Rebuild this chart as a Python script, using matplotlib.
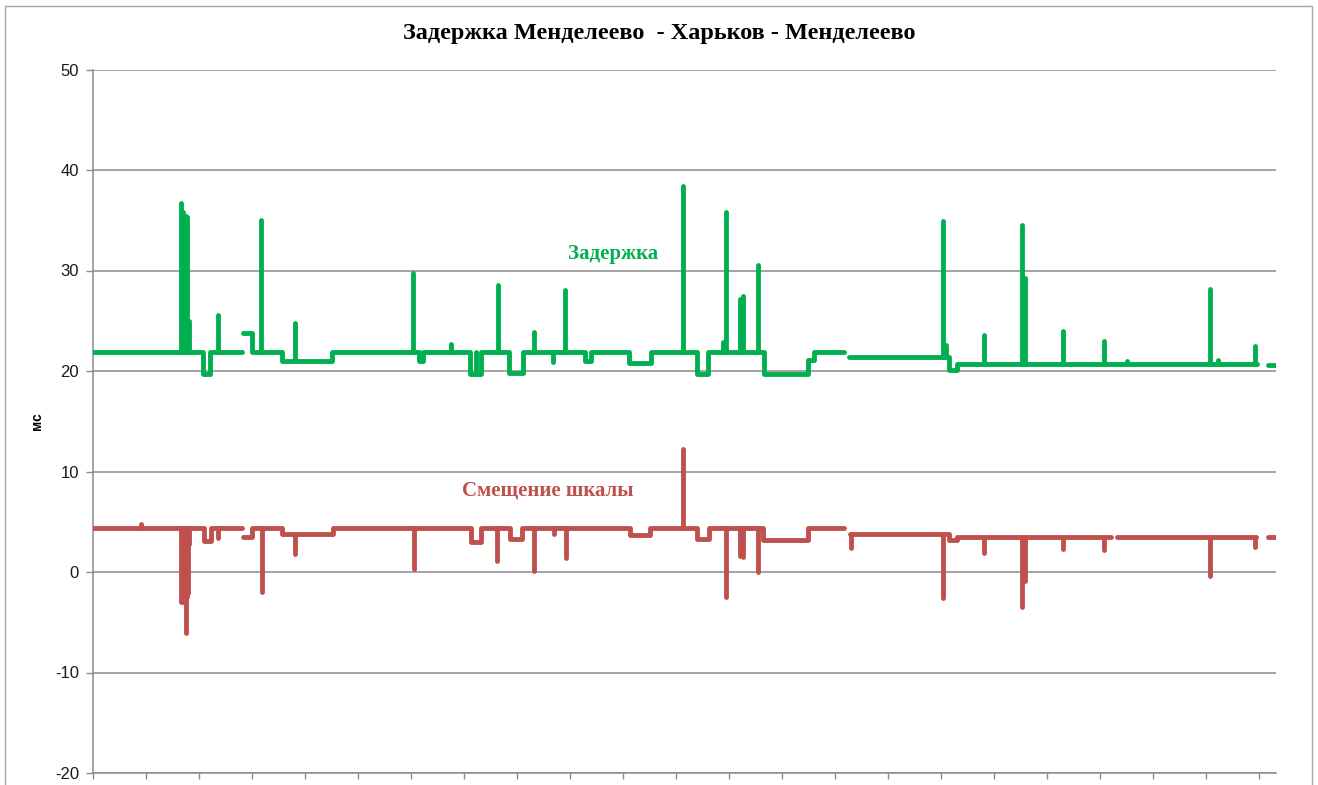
import numpy as np
import matplotlib
matplotlib.use("Agg")
import matplotlib.pyplot as plt
from matplotlib.patches import Rectangle

# ---------------- data ----------------
title = "Задержка Менделеево  - Харьков - Менделеево"
y_label = "мс"
delay_name = "Задержка"
offset_name = "Смещение шкалы"

y_ticks = [-20, -10, 0, 10, 20, 30, 40, 50]
x_tick_count = 23          # category tick marks along the bottom axis
x_max = 22.32

# Delay (green): step levels between break points (NaN = gap in the data)
delay_break_x = [0.0, 2.083, 2.21, 2.82, 2.83, 2.997, 3.564, 4.519, 6.144, 6.227,
                 7.120, 7.322, 7.856, 8.115, 9.292, 9.405, 10.110, 10.532, 11.407,
                 11.615, 12.659, 13.498, 13.603, 13.654, 14.170, 14.264, 16.153,
                 16.298, 21.964, 22.166, 22.32]
delay_level = [21.9, 19.7, 21.9, np.nan, 23.8, 21.9, 21.0, 21.9, 21.0,
               21.9, 19.7, 21.9, 19.8, 21.9, 21.0, 21.9, 20.8, 21.9,
               19.7, 21.9, 19.7, 21.1, 21.9, 21.9, np.nan, 21.35, 20.1,
               20.7, np.nan, 20.6]
# Delay spikes: position and peak value
delay_spike_x = [1.656, 1.69, 1.724, 1.76, 1.781, 1.819, 2.366, 3.173, 3.815,
                 6.038, 6.761, 7.233, 7.643, 8.315, 8.682, 8.914, 11.137,
                 11.885, 11.949, 12.219, 12.270, 12.553, 16.047, 16.091,
                 16.814, 17.526, 17.583, 18.314, 19.080, 19.509, 21.077,
                 21.236, 21.932]
delay_spike_y = [36.7, 35.8, 34.2, 35.4, 35.3, 25.0, 25.6, 35.0, 24.8,
                 29.8, 22.7, 21.9, 28.6, 23.9, 20.9, 28.1, 38.4,
                 22.9, 35.8, 27.2, 27.5, 30.5, 34.9, 22.6,
                 23.6, 34.5, 29.3, 24.0, 23.0, 21.0, 28.2,
                 21.1, 22.5]

# Scale offset (red): step levels between break points
offset_break_x = [0.0, 2.096, 2.223, 2.82, 2.83, 2.997, 3.564, 4.527, 7.139, 7.322,
                  7.875, 8.096, 10.128, 10.519, 11.402, 11.620, 12.648, 13.498,
                  14.170, 14.283, 16.153, 16.298, 19.207, 19.320, 21.946, 22.166,
                  22.32]
offset_level = [4.4, 3.1, 4.4, np.nan, 3.5, 4.4, 3.8, 4.4, 3.0,
                4.4, 3.3, 4.4, 3.7, 4.4, 3.3, 4.4, 3.2,
                4.4, np.nan, 3.8, 3.2, 3.5, np.nan, 3.5, np.nan, 3.5]
offset_spike_x = [0.901, 1.662, 1.70, 1.751, 1.78, 1.800, 1.819, 2.366, 3.186,
                  3.815, 6.049, 7.624, 8.315, 8.693, 8.927, 11.137, 11.949,
                  12.219, 12.270, 12.546, 14.300, 16.047, 16.814, 17.539,
                  17.583, 18.314, 19.080, 21.077, 21.93]
offset_spike_y = [4.75, -3.0, -3.0, -6.1, -2.5, -2.1, 2.8, 3.4, -2.0,
                  1.8, 0.3, 1.1, 0.1, 3.8, 1.4, 12.2, -2.5,
                  1.6, 1.5, 0.0, 2.4, -2.6, 1.9, -3.5,
                  -0.9, 2.3, 2.2, -0.4, 2.5]

GREEN = "#00b050"
RED = "#c0504d"
GRID = "#8a8a8a"

# ---------------- figure ----------------
W, H, DPI = 1318, 785, 100
fig = plt.figure(figsize=(W / DPI, H / DPI), dpi=DPI)
fig.patch.set_facecolor("white")
fig.patches.append(Rectangle((5 / W, -0.02), (1312 - 5) / W, 1 - 5.5 / H + 0.02,
                             transform=fig.transFigure, fill=False,
                             edgecolor="#a6a6a6", linewidth=1.0))

ax = fig.add_axes([93 / W, 1 - 773 / H, (1275.7 - 93) / W, (773 - 69.5) / H])
ax.set_xlim(0, x_max)
ax.set_ylim(-20, 50)

LW = 3.5


def draw_series(edges, levels, sx, sy, color):
    edges = np.asarray(edges, float)
    levels = np.asarray(levels, float)
    px = np.repeat(edges, 2)[1:-1]
    py = np.repeat(levels, 2)
    ax.plot(px, py, color=color, lw=LW, solid_joinstyle="round",
            solid_capstyle="round", zorder=3)
    idx = np.clip(np.searchsorted(edges, sx, side="right") - 1, 0, len(levels) - 1)
    base = levels[idx]
    ax.vlines(sx, base, sy, colors=color, lw=LW, zorder=3, capstyle="round")


draw_series(delay_break_x, delay_level, delay_spike_x, delay_spike_y, GREEN)
draw_series(offset_break_x, offset_level, offset_spike_x, offset_spike_y, RED)

# axes styling
ax.set_yticks(y_ticks)
ax.set_yticklabels([str(v) for v in y_ticks], fontsize=12,
                   family="Liberation Sans", color="#1a1a1a")
ax.set_xticks(np.arange(x_tick_count))
ax.set_xticklabels([])
ax.yaxis.grid(True, color=GRID, lw=1.1)
ax.set_axisbelow(True)
for s in ("top", "right"):
    ax.spines[s].set_visible(False)
for s in ("left", "bottom"):
    ax.spines[s].set_color(GRID)
    ax.spines[s].set_linewidth(1.1)
ax.tick_params(axis="y", direction="out", length=5, width=1.0, color=GRID, pad=5)
ax.tick_params(axis="x", direction="out", length=4, width=1.0, color=GRID)

ax.set_ylabel(y_label, fontsize=10, fontweight="bold", family="Liberation Sans",
              labelpad=8)

fig.text(0.5, 1 - 33 / H, title, ha="center", va="center", fontsize=17.5,
         fontweight="bold", family="Liberation Serif", color="black")

ax.text(9.82, 31.6, delay_name, ha="center", va="center", fontsize=15,
        fontweight="bold", family="Liberation Serif", color=GREEN)
ax.text(8.59, 8.1, offset_name, ha="center", va="center", fontsize=15,
        fontweight="bold", family="Liberation Serif", color=RED)

fig.savefig("out.png", dpi=DPI, facecolor="white")
